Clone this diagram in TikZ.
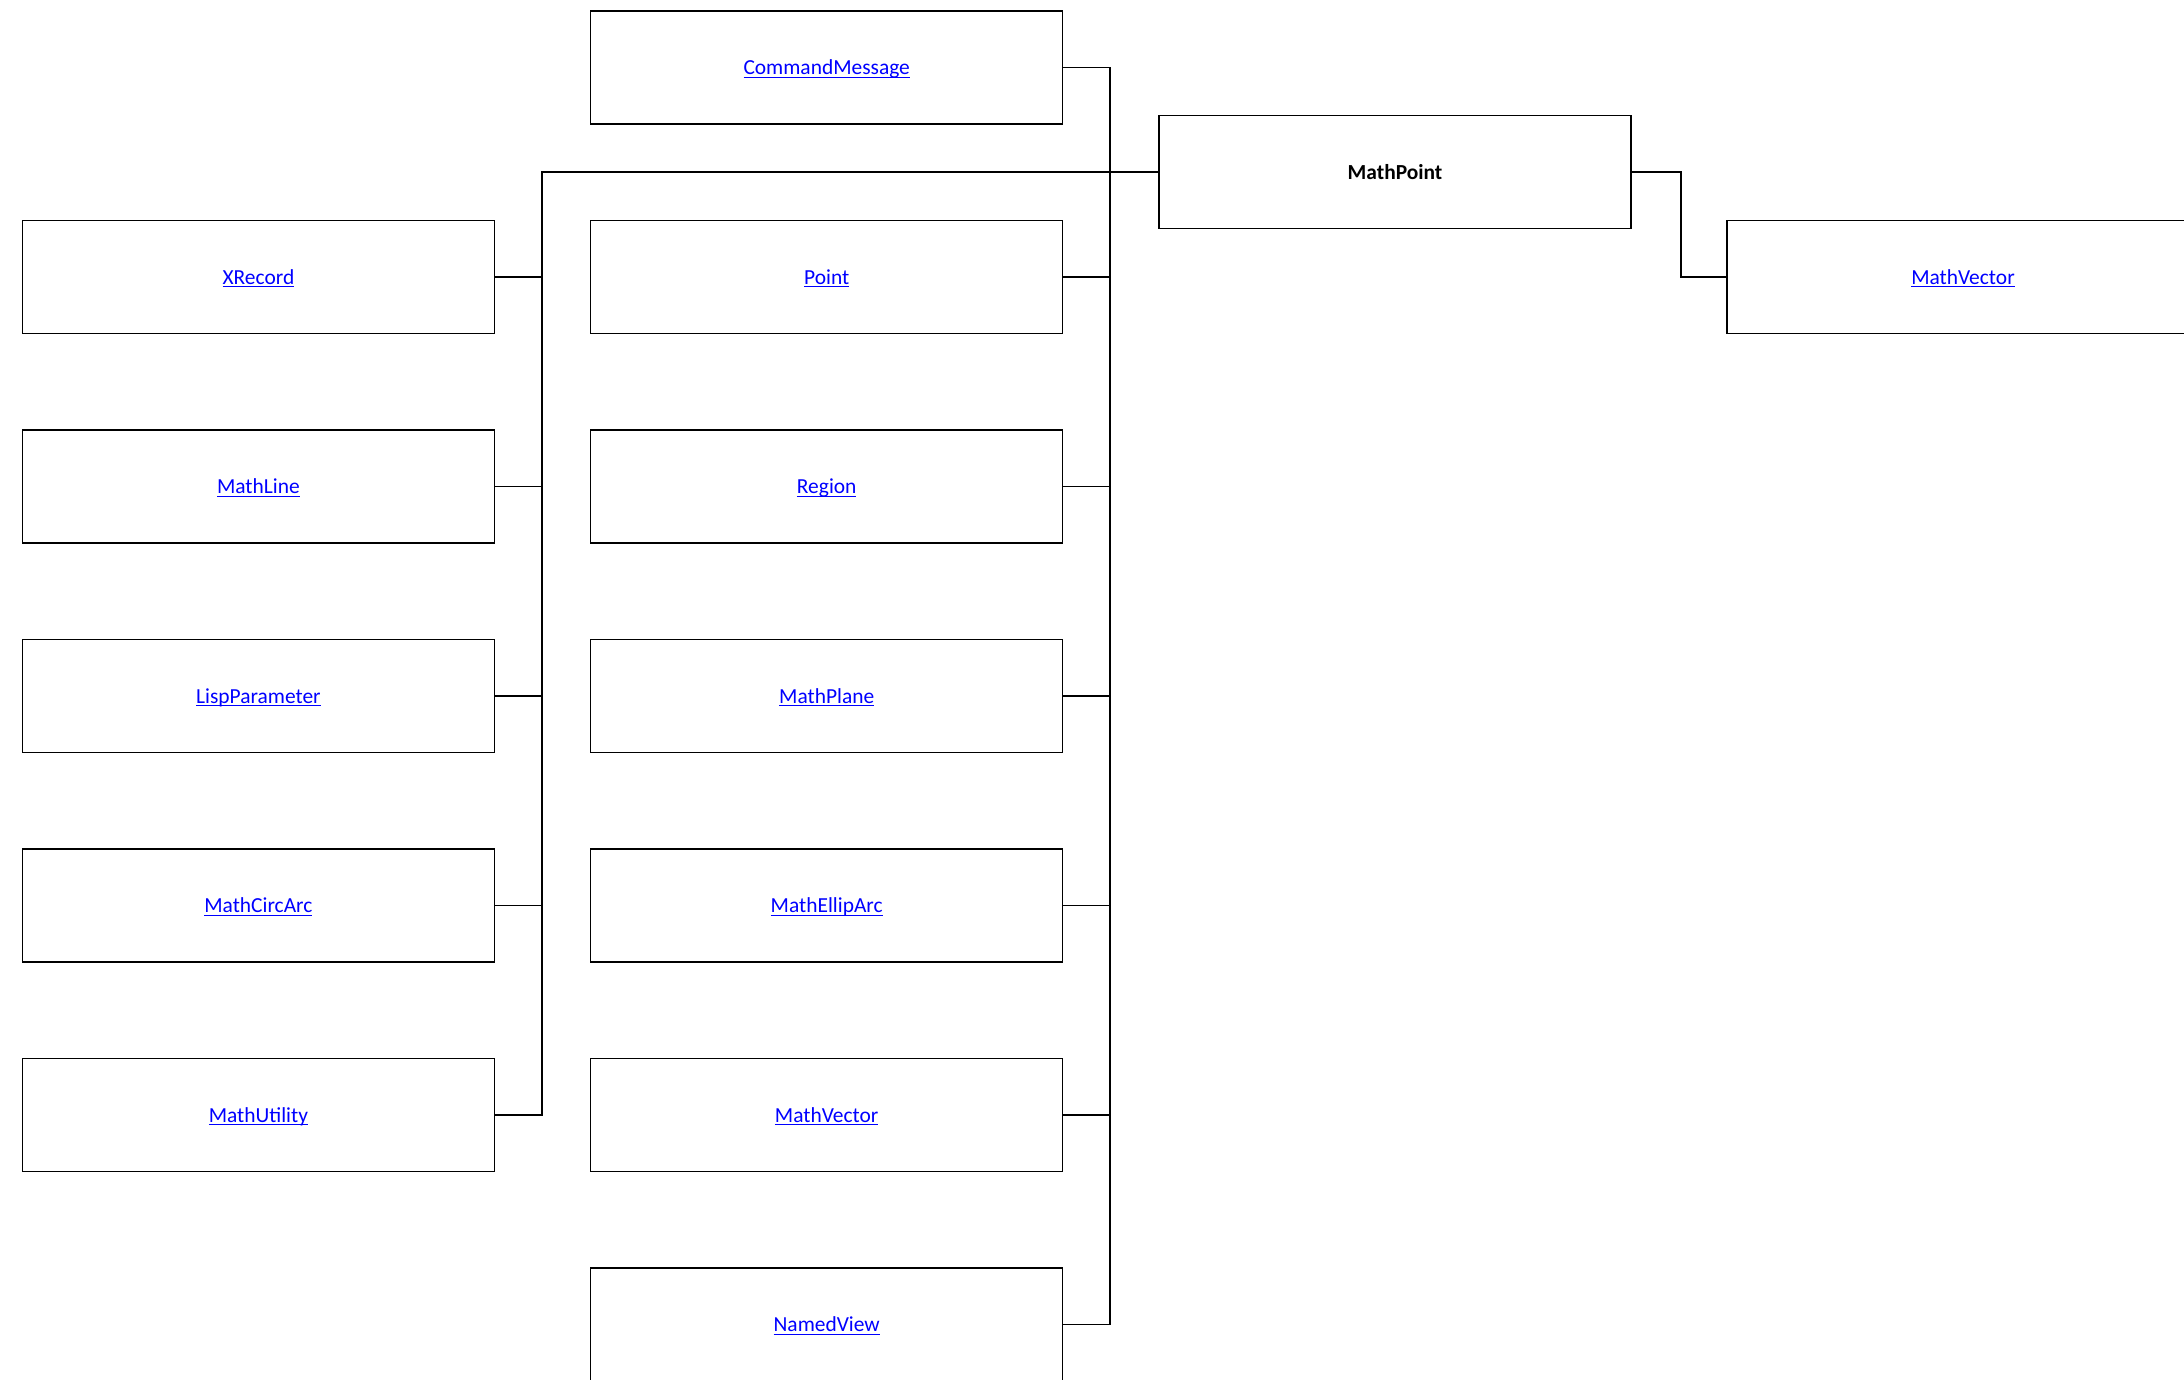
\documentclass[tikz,border=0pt]{standalone}
\usepackage{fontspec}
\setmainfont{Carlito}
\usetikzlibrary{positioning}

\tikzset{
  cls/.style={draw, line width=0.45pt, minimum width=4.72cm, minimum height=1.13cm,
    inner sep=0pt, text height=4pt, text depth=0pt, text=blue,
    font=\fontsize{6.1}{7.5}\selectfont},
  base/.style={cls, text=black, font=\fontsize{6.1}{7.5}\selectfont\bfseries},
  link/.style={line width=0.45pt},
}
\newlength{\linkwd}
\newcommand{\clslink}[1]{\settowidth{\linkwd}{#1}\rlap{\rule[-0.9pt]{\linkwd}{0.3pt}}#1}

\begin{document}
\begin{tikzpicture}
  \useasboundingbox (0,0) rectangle (21.84,-13.80);

  % base class and its neighbours
  \node[base] (mathpoint) at (13.95,-1.72) {MathPoint};
  \node[cls] (cmdmsg) at (8.267,-0.675) {\clslink{CommandMessage}};
  \node[cls] (vecright) at (19.63,-2.77) {\clslink{MathVector}};

  % left column
  \foreach \i/\nm/\lab in {0/xrec/XRecord, 1/mline/MathLine, 2/lispparam/LispParameter,
                           3/circarc/MathCircArc, 4/mutil/MathUtility} {
    \node[cls] (\nm) at (2.584,{-2.77-2.095*\i}) {\clslink{\lab}};
  }

  % middle column
  \foreach \i/\nm/\lab in {0/point/Point, 1/region/Region, 2/mplane/MathPlane,
                           3/ellarc/MathEllipArc, 4/vecmid/MathVector, 5/nview/NamedView} {
    \node[cls] (\nm) at (8.267,{-2.77-2.095*\i}) {\clslink{\lab}};
  }

  % buses
  \coordinate (lbus) at (5.42,-1.72);
  \coordinate (mbus) at (11.10,-1.72);

  % left bus
  \draw[link] (mathpoint.west) -- (lbus) |- (mutil.east);
  \foreach \nm in {xrec, mline, lispparam, circarc}
    \draw[link] (\nm.east) -- (\nm.east -| lbus);

  % middle bus
  \draw[link] (cmdmsg.east) -- (cmdmsg.east -| mbus) -- (nview.east -| mbus) -- (nview.east);
  \foreach \nm in {point, region, mplane, ellarc, vecmid}
    \draw[link] (\nm.east) -- (\nm.east -| mbus);

  % right
  \draw[link] (mathpoint.east) -- ++(0.49,0) |- (vecright.west);
\end{tikzpicture}
\end{document}
